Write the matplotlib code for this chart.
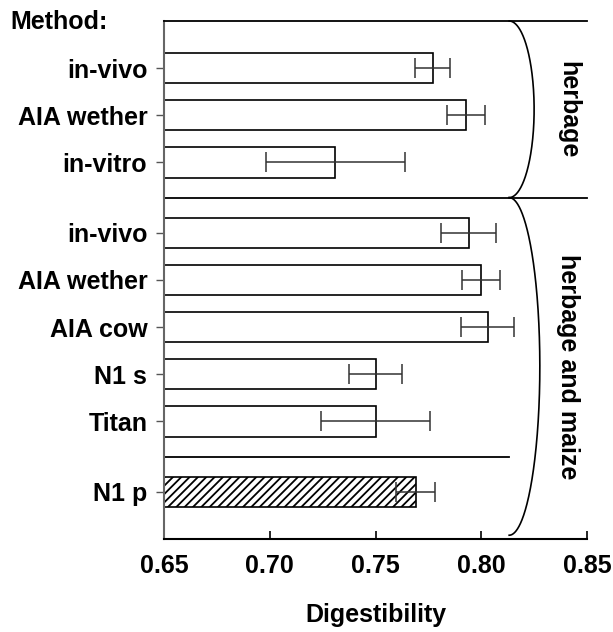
import numpy as np
import matplotlib
matplotlib.use("Agg")
import matplotlib.pyplot as plt

# ---- data ----
labels = ["in-vivo", "AIA wether", "in-vitro",
          "in-vivo", "AIA wether", "AIA cow", "N1 s", "Titan", "N1 p"]
values = [0.777, 0.793, 0.731,
          0.794, 0.800, 0.803, 0.750, 0.750, 0.769]
errors = [0.0083, 0.009, 0.033,
          0.013, 0.009, 0.0125, 0.0125, 0.026, 0.0092]
hatched = [False, False, False, False, False, False, False, False, True]
group_names = ["herbage", "herbage and maize"]
xticks = [0.65, 0.70, 0.75, 0.80, 0.85]
xtick_labels = ["0.65", "0.70", "0.75", "0.80", "0.85"]

# ---- layout ----
positions = [0, 1, 2, 3.5, 4.5, 5.5, 6.5, 7.5, 9.0]
group_bounds = [(-1.0, 2.75), (2.75, 9.92)]
brace_widths = [0.0118, 0.0145]
sep_line = 8.25
FONT = "Liberation Sans"
FS = 18
FW = "bold"

plt.rcParams["hatch.linewidth"] = 1.3

fig = plt.figure(figsize=(6.13, 6.32), dpi=100)
ax = fig.add_axes([164/613, 1-539/632, (587-164)/613, (539-21)/632])

for p, v, e, h in zip(positions, values, errors, hatched):
    ax.barh(p, v - 0.65, left=0.65, height=0.65, color="white",
            edgecolor="black", linewidth=1.2, hatch="////" if h else None,
            zorder=2)
    ax.errorbar(v, p, xerr=e, fmt="none", ecolor="#333333",
                elinewidth=1.1, capsize=7.2, capthick=1.1, zorder=3)

ax.set_xlim(0.65, 0.85)
ax.set_ylim(10, -1)
ax.set_yticks(positions)
ax.set_yticklabels(labels, fontsize=FS, family=FONT, fontweight=FW)
ax.set_xticks(xticks)
ax.set_xticklabels(xtick_labels, fontsize=FS, family=FONT, fontweight=FW)
ax.tick_params(axis="y", direction="out", length=6, width=1, color="#555555", pad=6)
ax.tick_params(axis="x", direction="in", length=6, width=1.2, pad=11)
ax.spines["right"].set_visible(False)
ax.spines["left"].set_color("#666666")
ax.spines["left"].set_linewidth(1.5)
ax.spines["bottom"].set_linewidth(1.5)
ax.spines["top"].set_linewidth(1.3)
ax.set_xlabel("Digestibility", fontsize=FS, family=FONT, fontweight=FW,
              labelpad=18)

# separator lines
ax.plot([0.65, 0.85], [2.75, 2.75], color="black", lw=1.3, clip_on=False)
ax.plot([0.65, 0.8132], [sep_line, sep_line], color="black", lw=1.3)

# braces
x0 = 0.8132
for (y0, y1), w, name in zip(group_bounds, brace_widths, group_names):
    th = np.linspace(0, np.pi, 300)
    xs = x0 + w * np.sin(th)
    yc = (y0 + y1) / 2
    hh = (y1 - y0) / 2
    ys = yc - hh * np.cos(th)
    ax.plot(xs, ys, color="black", lw=1.2, clip_on=False)
    ax.text(0.841, yc, name, rotation=-90, ha="center", va="center",
            fontsize=FS, family=FONT, fontweight=FW)

fig.text(10/613, 1-22/632, "Method:", ha="left", va="center",
         fontsize=FS, family=FONT, fontweight=FW)

fig.savefig("out.png", dpi=100)
